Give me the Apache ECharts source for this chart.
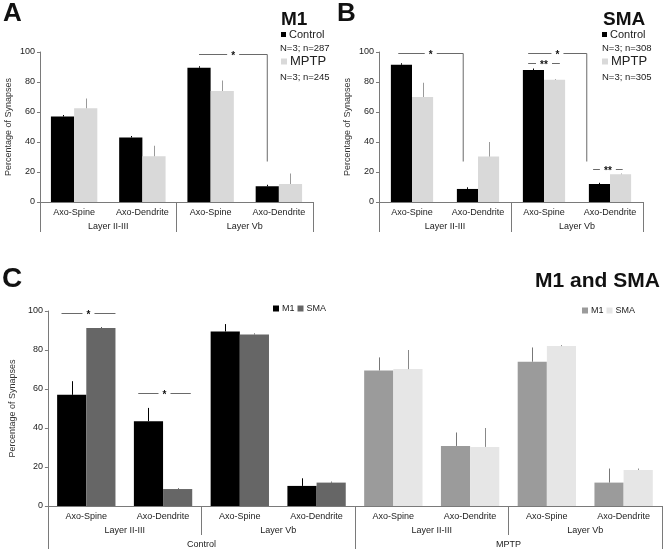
<!DOCTYPE html>
<html><head><meta charset="utf-8">
<script src="https://cdn.jsdelivr.net/npm/echarts@6/dist/echarts.min.js"></script>
<style>html,body{margin:0;padding:0;background:#fff}#c{width:666px;height:553px}</style>
</head><body><div id="c"></div>
<script>
// ---------- data ----------
const subCats = ['Axo-Spine', 'Axo-Dendrite', 'Axo-Spine', 'Axo-Dendrite'];
const layerCats = ['Layer II-III', 'Layer Vb'];
const subCatsC = subCats.concat(subCats);
const layerCatsC = layerCats.concat(layerCats);
const conditionCats = ['Control', 'MPTP'];
const yMin = 0, yMax = 100, yStep = 20;

// Panel A (M1)
const m1Control = [57, 43, 89.5, 10.5];
const m1ControlErrTop = [58, 44, 90.5, 11.5];
const m1Mptp = [62.5, 30.5, 74, 12];
const m1MptpErrTop = [69, 37.5, 81, 19];
const nM1 = ['N=3; n=287', 'N=3; n=245'];

// Panel B (SMA)
const smaControl = [91.5, 8.7, 88, 12];
const smaControlErrTop = [92.5, 9.8, 89, 12.8];
const smaMptp = [70, 30.3, 81.5, 18.5];
const smaMptpErrTop = [79.5, 40, 82, 19];
const nSma = ['N=3; n=308', 'N=3; n=305'];

// Panel C (M1 and SMA)
const cM1Control = [57, 43.5, 89.5, 10.3];
const cM1ControlErrTop = [64, 50.3, 93.3, 14.2];
const cSmaControl = [91.3, 8.7, 88, 12];
const cSmaControlErrTop = [91.8, 9.1, 88.5, 12.5];
const cM1Mptp = [69.5, 30.8, 74, 12];
const cM1MptpErrTop = [76.2, 37.7, 81.3, 19.2];
const cSmaMptp = [70.2, 30.3, 82, 18.5];
const cSmaMptpErrTop = [80, 40, 82.5, 19.2];

// significance brackets: [fromCat, fromBar(half-bar units), toCat, toBar, level, dropTo]
const bracketsA = [[2, -1, 3, -1, 99, 27]];
const bracketLabelsA = ['*'];
const bracketsB = [[0, -1.3, 1, -1.4, 99.3, 27], [2, -1.5, 3, -2.2, 99.3, 27], [2, -1.5, 2, 1.5, 93, 0], [3, -1.6, 3, 1.2, 22, 0]];
const bracketLabelsB = ['*', '*', '**', '**'];
const bracketsC = [[0, -1.7, 0, 2, 98.8, 0], [1, -1.7, 1, 1.9, 57.7, 0]];
const bracketLabelsC = ['*', '*'];

// ---------- styling ----------
const FONT = 'Liberation Sans, Arial, sans-serif';
const AX = '#7a7a7a';
const gapA = 0.32, gapB = 0.36, gapC = 0.24;

const grids = [
  {left: 40, top: 52, width: 273, height: 150},
  {left: 379, top: 52, width: 264, height: 150},
  {left: 40, top: 311, width: 622, height: 195}
];

function yAxis(gi, nameGap) {
  return {
    type: 'value', gridIndex: gi, min: yMin, max: yMax, interval: yStep,
    name: 'Percentage of Synapses', nameLocation: 'middle', nameGap: nameGap, nameRotate: 90,
    nameTextStyle: {fontFamily: FONT, fontSize: 9, color: '#333'},
    axisLine: {show: true, lineStyle: {color: AX, width: 1}},
    axisTick: {show: true, length: 3, lineStyle: {color: AX}},
    axisLabel: {fontFamily: FONT, fontSize: 9, color: '#222', margin: 5},
    splitLine: {show: false}
  };
}
function catAxis(gi, data, opts) {
  return Object.assign({
    type: 'category', gridIndex: gi, data: data, position: 'bottom', offset: 0,
    axisLine: {show: false, lineStyle: {color: AX}},
    axisTick: {show: false},
    axisLabel: {fontFamily: FONT, fontSize: 9, color: '#222', interval: 0},
    splitLine: {show: false}
  }, opts);
}

function errSeries(xi, yi, cats, tops, vals, slot, gap, color) {
  return {
    type: 'custom', xAxisIndex: xi, yAxisIndex: yi, z: 5, silent: true,
    encode: {x: 0, y: [1, 2]},
    data: vals.map((v, i) => [cats[i], v, tops[i]]),
    renderItem: function (params, api) {
      const c = api.value(0);
      const p = api.coord([c, api.value(1)]);
      const q = api.coord([c, api.value(2)]);
      const band = api.size([1, 0])[0];
      const hw = band * (1 - gap) / 4;
      const x = Math.round(p[0] + slot * hw) + 0.5;
      return {type: 'line', shape: {x1: x, y1: p[1], x2: x, y2: q[1]}, style: {stroke: color, lineWidth: 1}};
    }
  };
}

function bracketSeries(xi, yi, rows, labels, gap) {
  return {
    type: 'custom', xAxisIndex: xi, yAxisIndex: yi, z: 6, silent: true,
    encode: {x: 0, y: 4},
    data: rows,
    renderItem: function (params, api) {
      const band = api.size([1, 0])[0];
      const hw = band * (1 - gap) / 4;
      const a = api.coord([api.value(0), api.value(4)]);
      const b = api.coord([api.value(2), api.value(4)]);
      const x0 = a[0] + api.value(1) * hw;
      const x1 = b[0] + api.value(3) * hw;
      const y = Math.round(a[1]) + 0.5;
      const xm = (x0 + x1) / 2;
      const lab = labels[params.dataIndex];
      const g = lab.length > 1 ? 8 : 6;
      const st = {stroke: '#6a6a6a', lineWidth: 1};
      const ch = [
        {type: 'line', shape: {x1: x0, y1: y, x2: xm - g, y2: y}, style: st},
        {type: 'line', shape: {x1: xm + g, y1: y, x2: x1, y2: y}, style: st},
        {type: 'text', style: {text: lab, x: xm, y: y + 2, align: 'center', verticalAlign: 'middle',
          font: 'bold 10px ' + FONT, fill: '#111'}}
      ];
      const d = api.value(5);
      if (d > 0) {
        const yd = api.coord([api.value(2), d])[1];
        ch.push({type: 'line', shape: {x1: x1, y1: y, x2: x1, y2: yd}, style: st});
      }
      return {type: 'group', children: ch};
    }
  };
}

const idx4 = [0, 1, 2, 3];
const idx4b = [4, 5, 6, 7];

function legend(name, left, top, size, fs) {
  return {
    data: [name], left: left, top: top, padding: 0, icon: 'rect', itemWidth: size, itemHeight: size,
    selectedMode: false, formatter: n => n.split(' ').pop(),
    textStyle: {fontFamily: FONT, fontSize: fs, color: '#222', padding: [0, 0, 0, -2]}
  };
}
function legendPair(names, left, top) {
  return {
    data: names, left: left, top: top, padding: 0, icon: 'rect', itemWidth: 6, itemHeight: 6, itemGap: 3,
    selectedMode: false, formatter: n => n.split(' ').pop(),
    textStyle: {fontFamily: FONT, fontSize: 9, color: '#222', padding: [0, 0, 0, -2]}
  };
}
function t(text, left, top, fs, bold) {
  return {text: text, left: left, top: top, padding: 0,
    textStyle: {fontFamily: FONT, fontSize: fs, fontWeight: bold ? 'bold' : 'normal', color: bold ? '#111' : '#222'}};
}

const option = {
  animation: false,
  backgroundColor: '#fff',
  title: [
    t('A', 3, 1, 26, true), t('B', 337, 1, 26, true), t('C', 2, 265, 28, true),
    t('M1', 281, 10, 19, true), t('SMA', 603, 10, 19, true), t('M1 and SMA', 535, 271, 21, true),
    t(nM1[0], 280, 43, 9.5), t(nM1[1], 280, 72, 9.5),
    t(nSma[0], 602, 43, 9.5), t(nSma[1], 602, 72, 9.5)
  ],
  legend: [
    legend('A Control', 281, 29, 5, 11), legend('A MPTP', 281, 55, 6, 13),
    legend('B Control', 602, 29, 5, 11), legend('B MPTP', 602, 55, 6, 13),
    legendPair(['C Control M1', 'C Control SMA'], 273, 304),
    legendPair(['C MPTP M1', 'C MPTP SMA'], 582, 306)
  ],
  grid: grids,
  xAxis: [
    catAxis(0, subCats, {axisLine: {show: true, lineStyle: {color: AX}}, axisLabel: {fontFamily: FONT, fontSize: 9, color: '#222', interval: 0, margin: 6}}),
    catAxis(0, layerCats, {axisTick: {show: true, length: 30, interval: 0, lineStyle: {color: AX}}, axisLabel: {fontFamily: FONT, fontSize: 9, color: '#222', interval: 0, margin: 20}}),
    catAxis(1, subCats, {axisLine: {show: true, lineStyle: {color: AX}}, axisLabel: {fontFamily: FONT, fontSize: 9, color: '#222', interval: 0, margin: 6}}),
    catAxis(1, layerCats, {axisTick: {show: true, length: 30, interval: 0, lineStyle: {color: AX}}, axisLabel: {fontFamily: FONT, fontSize: 9, color: '#222', interval: 0, margin: 20}}),
    catAxis(2, subCatsC, {axisLine: {show: true, lineStyle: {color: AX}}, axisLabel: {fontFamily: FONT, fontSize: 9, color: '#222', interval: 0, margin: 6}}),
    catAxis(2, layerCatsC, {axisTick: {show: true, length: 29, interval: 0, lineStyle: {color: AX}}, axisLabel: {fontFamily: FONT, fontSize: 9, color: '#222', interval: 0, margin: 20}}),
    catAxis(2, conditionCats, {axisTick: {show: true, length: 43, interval: 0, lineStyle: {color: AX}}, axisLabel: {fontFamily: FONT, fontSize: 9, color: '#222', interval: 0, margin: 34}})
  ],
  yAxis: [yAxis(0, 27), yAxis(1, 27), yAxis(2, 27)],
  series: [
    {name: 'A Control', type: 'bar', xAxisIndex: 0, yAxisIndex: 0, data: m1Control, itemStyle: {color: '#000'}, barGap: '0%', barCategoryGap: (gapA * 100) + '%'},
    {name: 'A MPTP', type: 'bar', xAxisIndex: 0, yAxisIndex: 0, data: m1Mptp, itemStyle: {color: '#d9d9d9'}, barGap: '0%', barCategoryGap: (gapA * 100) + '%'},
    errSeries(0, 0, idx4, m1ControlErrTop, m1Control, -1, gapA, '#000'),
    errSeries(0, 0, idx4, m1MptpErrTop, m1Mptp, 1, gapA, '#9a9a9a'),
    bracketSeries(0, 0, bracketsA, bracketLabelsA, gapA),

    {name: 'B Control', type: 'bar', xAxisIndex: 2, yAxisIndex: 1, data: smaControl, itemStyle: {color: '#000'}, barGap: '0%', barCategoryGap: (gapB * 100) + '%'},
    {name: 'B MPTP', type: 'bar', xAxisIndex: 2, yAxisIndex: 1, data: smaMptp, itemStyle: {color: '#d9d9d9'}, barGap: '0%', barCategoryGap: (gapB * 100) + '%'},
    errSeries(2, 1, idx4, smaControlErrTop, smaControl, -1, gapB, '#000'),
    errSeries(2, 1, idx4, smaMptpErrTop, smaMptp, 1, gapB, '#9a9a9a'),
    bracketSeries(2, 1, bracketsB, bracketLabelsB, gapB),

    {name: 'C Control M1', type: 'bar', stack: 'm1', xAxisIndex: 4, yAxisIndex: 2, data: cM1Control.concat(['-', '-', '-', '-']), itemStyle: {color: '#000'}, barGap: '0%', barCategoryGap: (gapC * 100) + '%'},
    {name: 'C Control SMA', type: 'bar', stack: 'sma', xAxisIndex: 4, yAxisIndex: 2, data: cSmaControl.concat(['-', '-', '-', '-']), itemStyle: {color: '#666'}, barGap: '0%', barCategoryGap: (gapC * 100) + '%'},
    {name: 'C MPTP M1', type: 'bar', stack: 'm1', xAxisIndex: 4, yAxisIndex: 2, data: ['-', '-', '-', '-'].concat(cM1Mptp), itemStyle: {color: '#9b9b9b'}, barGap: '0%', barCategoryGap: (gapC * 100) + '%'},
    {name: 'C MPTP SMA', type: 'bar', stack: 'sma', xAxisIndex: 4, yAxisIndex: 2, data: ['-', '-', '-', '-'].concat(cSmaMptp), itemStyle: {color: '#e6e6e6'}, barGap: '0%', barCategoryGap: (gapC * 100) + '%'},
    errSeries(4, 2, idx4, cM1ControlErrTop, cM1Control, -1, gapC, '#000'),
    errSeries(4, 2, idx4, cSmaControlErrTop, cSmaControl, 1, gapC, '#555'),
    errSeries(4, 2, idx4b, cM1MptpErrTop, cM1Mptp, -1, gapC, '#777'),
    errSeries(4, 2, idx4b, cSmaMptpErrTop, cSmaMptp, 1, gapC, '#888'),
    bracketSeries(4, 2, bracketsC, bracketLabelsC, gapC)
  ]
};
const chart = echarts.init(document.getElementById('c'), null, {renderer: 'canvas'});
chart.setOption(option);
</script>
</body></html>
